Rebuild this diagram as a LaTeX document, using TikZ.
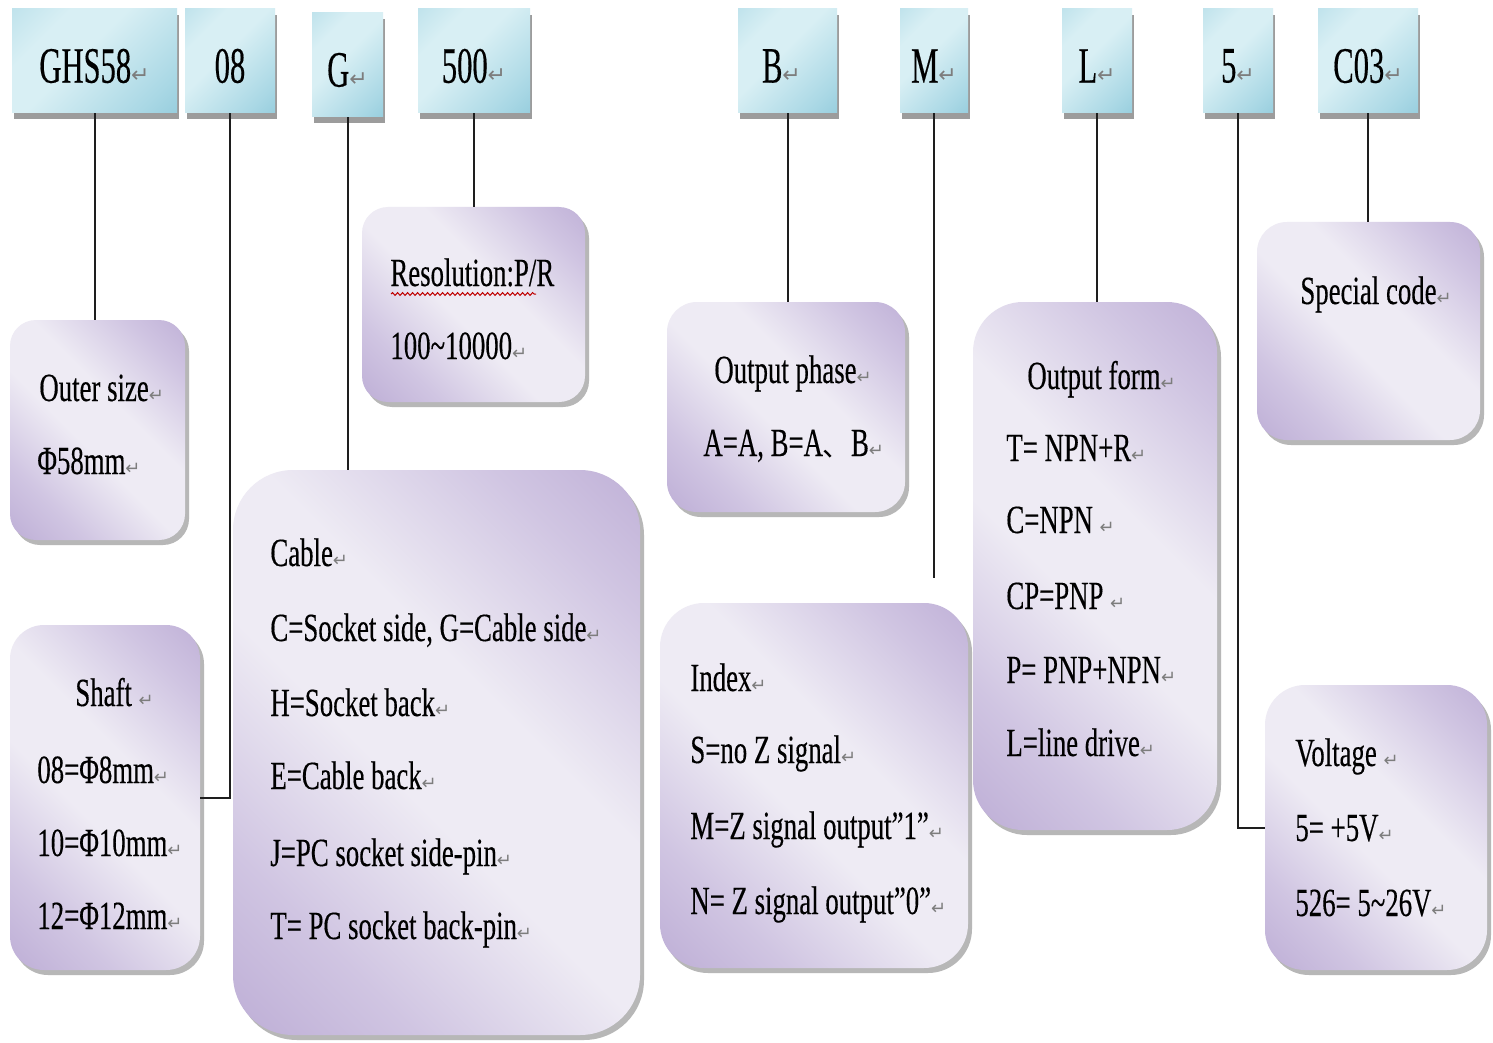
\documentclass[tikz,border=0pt]{standalone}
\usepackage{fontspec}
\setmainfont{Liberation Serif}[FakeStretch=0.67,FakeBold=0.3]
\newfontfamily\topfont{Liberation Serif}[FakeStretch=0.6,FakeBold=0.3]
\newfontfamily\symfont{DejaVu Sans}
\newfontfamily\cjkfont{Noto Sans CJK SC}
\usetikzlibrary{fit,shadows,decorations.pathmorphing}
\definecolor{lavdark}{RGB}{170,150,201}
\definecolor{lavmid}{RGB}{208,197,226}
\definecolor{lavlight}{RGB}{238,235,244}
\definecolor{bluedark}{RGB}{128,193,212}
\definecolor{bluemid}{RGB}{170,216,229}
\definecolor{bluelight}{RGB}{216,239,244}
\definecolor{retgray}{RGB}{125,125,125}
\definecolor{linecol}{RGB}{30,30,30}
\pgfdeclarehorizontalshading{lavshade}{100bp}{color(0bp)=(lavdark); color(28bp)=(lavmid); color(45bp)=(lavlight); color(58bp)=(lavlight); color(75bp)=(lavmid); color(100bp)=(lavdark)}
\pgfdeclarehorizontalshading{blueshade}{100bp}{color(0bp)=(bluemid); color(30bp)=(bluelight); color(45bp)=(bluelight); color(75bp)=(bluemid); color(100bp)=(bluedark)}
\newcommand\retmark{\textcolor{retgray}{\symfont\fontsize{9pt}{9pt}\selectfont ↵}}
\newcommand\retbig{\textcolor{retgray}{\symfont\fontsize{11pt}{11pt}\selectfont ↵}}
\newcommand\bodytext{\fontsize{20pt}{24pt}\selectfont}
\newcommand\toptext{\topfont\fontsize{25.5pt}{28pt}\selectfont}
\tikzset{
  bbox/.style={rectangle, inner sep=0pt, shading=blueshade, shading angle=-45,
    drop shadow={shadow xshift=1pt, shadow yshift=-3pt, opacity=0.55, fill=black!70}},
  toptxt/.style={inner sep=0pt, font=\toptext},
  pbox/.style={rectangle, inner sep=0pt, shading=lavshade, shading angle=45,
    drop shadow={shadow xshift=2pt, shadow yshift=-2.5pt, opacity=0.4, fill=black!70}},
  txt/.style={anchor=base west, inner sep=0pt, font=\bodytext},
  link/.style={draw=linecol, line width=1pt}
}
\begin{document}
\begin{tikzpicture}[x=0.5pt,y=-0.5pt]
\fill[white] (0,0) rectangle (1493,1043);
\useasboundingbox (0,0) rectangle (1493,1043);
% top code boxes
\node[bbox, fit={(12,9) (177,113)}] (ghs) {};
\node[bbox, fit={(185,9) (275,113)}] (b08) {};
\node[bbox, fit={(312,13) (383,117)}] (g) {};
\node[bbox, fit={(418,9) (530,113)}] (r500) {};
\node[bbox, fit={(738,9) (837,113)}] (b) {};
\node[bbox, fit={(900,9) (968,113)}] (m) {};
\node[bbox, fit={(1062,9) (1132,113)}] (l) {};
\node[bbox, fit={(1203,9) (1273,113)}] (five) {};
\node[bbox, fit={(1318,9) (1418,113)}] (c03) {};
\node[toptxt] (ghs-t) at ([yshift=-2.5pt]ghs.center) {GHS58\retbig};
\node[toptxt] (b08-t) at ([yshift=-2.5pt]b08.center) {08};
\node[toptxt] (g-t) at ([yshift=-2.5pt]g.center) {G\retbig};
\node[toptxt] (r500-t) at ([yshift=-2.5pt]r500.center) {500\retbig};
\node[toptxt] (b-t) at ([xshift=-3pt,yshift=-2.5pt]b.center) {B\retbig};
\node[toptxt] (m-t) at ([yshift=-2.5pt]m.center) {M\retbig};
\node[toptxt] (l-t) at ([yshift=-2.5pt]l.center) {L\retbig};
\node[toptxt] (five-t) at ([yshift=-2.5pt]five.center) {5\retbig};
\node[toptxt] (c03-t) at ([yshift=-2.5pt]c03.center) {C03\retbig};
% description boxes
\node[pbox, rounded corners=13pt, fit={(10,320) (185,540)}] (outer) {};
\node[pbox, rounded corners=17pt, fit={(10,625) (200,970)}] (shaft) {};
\node[pbox, rounded corners=13pt, fit={(362,207) (585,402)}] (res) {};
\node[pbox, rounded corners=30pt, fit={(233,470) (640,1035)}] (cable) {};
\node[pbox, rounded corners=15pt, fit={(667,302) (905,512)}] (phase) {};
\node[pbox, rounded corners=22pt, fit={(660,603) (968,968)}] (index) {};
\node[pbox, rounded corners=25pt, fit={(973,302) (1217,830)}] (form) {};
\node[pbox, rounded corners=15pt, fit={(1257,222) (1480,440)}] (special) {};
\node[pbox, rounded corners=20pt, fit={(1265,685) (1487,970)}] (volt) {};
% connectors
\draw[link] (ghs.south) -- (ghs.south |- outer.north);
\draw[link] (b08.south) |- (shaft.east);
\draw[link] (g.south) -- (g.south |- cable.north);
\draw[link] (r500.south) -- (r500.south |- res.north);
\draw[link] (b.south) -- (b.south |- phase.north);
\coordinate (mend) at (934,578);
\draw[link] (m.south) -- (m.south |- mend);
\draw[link] (l.south) -- (l.south |- form.north);
\draw[link] (five.south) |- (volt.west);
\draw[link] (c03.south) -- (c03.south |- special.north);
% texts
\node[txt] (o1) at (39,401) {Outer size\retmark};
\node[txt] (o2) at (37,474) {Φ58mm\retmark};
\node[txt] (s1) at (75,706) {Shaft \retmark};
\node[txt] (s2) at (37,783) {08=Φ8mm\retmark};
\node[txt] (s3) at (37,856) {10=Φ10mm\retmark};
\node[txt] (s4) at (37,929) {12=Φ12mm\retmark};
\node[txt] (r1) at (390,286) {Resolution:P/R};
\node[txt] (r2) at (390,359) {100\textasciitilde10000\retmark};
\draw[red!75!black, line width=0.5pt, decorate, decoration={snake, amplitude=0.7pt, segment length=2.5pt}] (391,294) -- (536,294);
\node[txt] (c1) at (270,566) {Cable\retmark};
\node[txt] (c2) at (270,641) {C=Socket side, G=Cable side\retmark};
\node[txt] (c3) at (270,716) {H=Socket back\retmark};
\node[txt] (c4) at (270,789) {E=Cable back\retmark};
\node[txt] (c5) at (270,866) {J=PC socket side-pin\retmark};
\node[txt] (c6) at (270,939) {T= PC socket back-pin\retmark};
\node[txt] (p1) at (714,383) {Output phase\retmark};
\node[txt] (p2) at (703,456) {A=A, B=A{\cjkfont\fontsize{14pt}{14pt}\selectfont 、}B\retmark};
\node[txt] (i1) at (690,691) {Index\retmark};
\node[txt] (i2) at (690,763) {S=no Z signal\retmark};
\node[txt] (i3) at (690,839) {M=Z signal output”1”\retmark};
\node[txt] (i4) at (690,914) {N= Z signal output”0”\retmark};
\node[txt] (f1) at (1027,389) {Output form\retmark};
\node[txt] (f2) at (1006,461) {T= NPN+R\retmark};
\node[txt] (f3) at (1006,533) {C=NPN \retmark};
\node[txt] (f4) at (1006,609) {CP=PNP \retmark};
\node[txt] (f5) at (1006,683) {P= PNP+NPN\retmark};
\node[txt] (f6) at (1006,756) {L=line drive\retmark};
\node[txt] (sp1) at (1300,304) {Special code\retmark};
\node[txt] (v1) at (1295,766) {Voltage \retmark};
\node[txt] (v2) at (1295,841) {5= +5V\retmark};
\node[txt] (v3) at (1295,916) {526= 5\textasciitilde26V\retmark};
\end{tikzpicture}
\end{document}
